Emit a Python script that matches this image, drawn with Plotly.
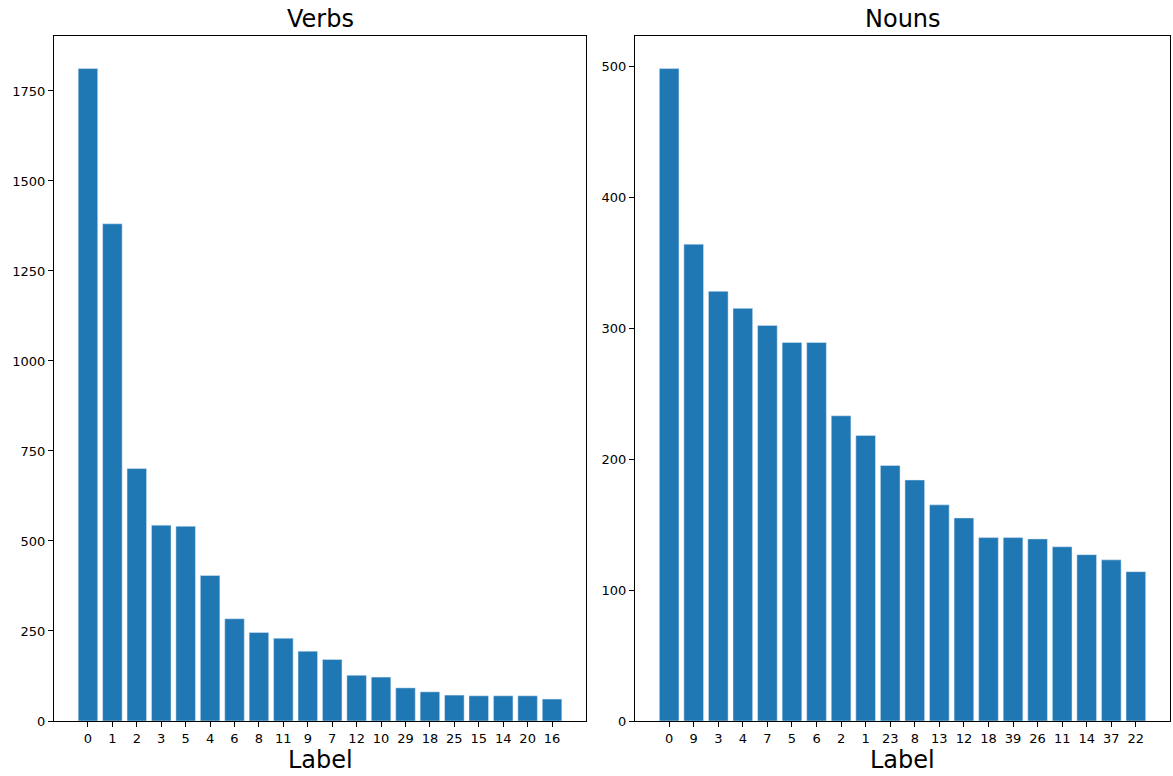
import plotly.graph_objects as go

verb_labels = ["0", "1", "2", "3", "5", "4", "6", "8", "11", "9", "7", "12", "10", "29", "18", "25", "15", "14", "20", "16"]
verb_counts = [1812, 1381, 701, 544, 541, 404, 284, 246, 230, 194, 171, 127, 122, 92, 81, 72, 70, 70, 70, 61]

noun_labels = ["0", "9", "3", "4", "7", "5", "6", "2", "1", "23", "8", "13", "12", "18", "39", "26", "11", "14", "37", "22"]
noun_counts = [498, 364, 328, 315, 302, 289, 289, 233, 218, 195, 184, 165, 155, 140, 140, 139, 133, 127, 123, 114]

W, H = 1173, 776
BLUE = "#1f77b4"
FONT = "DejaVu Sans"

fig = go.Figure()
fig.add_trace(go.Bar(x=verb_labels, y=verb_counts, marker_color=BLUE, xaxis="x", yaxis="y", width=0.8))
fig.add_trace(go.Bar(x=noun_labels, y=noun_counts, marker_color=BLUE, xaxis="x2", yaxis="y2", width=0.8))

def px_x(p):
    return p / W

def px_y(p):
    return 1 - p / H

top, bottom = 36, 721
ax_common = dict(showline=True, linecolor="black", linewidth=1, mirror=True,
                 ticks="outside", ticklen=5, tickcolor="black", showgrid=False,
                 zeroline=False, automargin=False,
                 tickfont=dict(family=FONT, size=13, color="black"))

n = len(verb_labels)
xr = [-0.4 - 0.05 * (n - 0.2), n - 1 + 0.4 + 0.05 * (n - 0.2)]

TS = 24
fig.update_layout(
    width=W, height=H, margin=dict(l=0, r=0, t=0, b=0),
    paper_bgcolor="white", plot_bgcolor="white", showlegend=False,
    font=dict(family=FONT, color="black"),
    xaxis=dict(domain=[px_x(54), px_x(586)], anchor="y", type="category",
               range=xr, ticklabelstandoff=0, **ax_common),
    yaxis=dict(domain=[px_y(bottom), px_y(top)], anchor="x",
               range=[0, max(verb_counts) * 1.05], tickvals=[0, 250, 500, 750, 1000, 1250, 1500, 1750], **ax_common),
    xaxis2=dict(domain=[px_x(635), px_x(1170)], anchor="y2", type="category",
                range=xr, ticklabelstandoff=0, **ax_common),
    yaxis2=dict(domain=[px_y(bottom), px_y(top)], anchor="x2",
                range=[0, max(noun_counts) * 1.05], tickvals=[0, 100, 200, 300, 400, 500], **ax_common),
    annotations=[
        dict(text="Verbs", x=(54 + 586) / 2 / W, y=px_y(19), xref="paper", yref="paper",
             showarrow=False, font=dict(size=TS, family=FONT, color="black"), xanchor="center", yanchor="middle"),
        dict(text="Nouns", x=(635 + 1170) / 2 / W, y=px_y(19), xref="paper", yref="paper",
             showarrow=False, font=dict(size=TS, family=FONT, color="black"), xanchor="center", yanchor="middle"),
        dict(text="Label", x=(54 + 586) / 2 / W, y=px_y(760), xref="paper", yref="paper",
             showarrow=False, font=dict(size=TS, family=FONT, color="black"), xanchor="center", yanchor="middle"),
        dict(text="Label", x=(635 + 1170) / 2 / W, y=px_y(760), xref="paper", yref="paper",
             showarrow=False, font=dict(size=TS, family=FONT, color="black"), xanchor="center", yanchor="middle"),
    ],
)

fig.write_html("out.html")
